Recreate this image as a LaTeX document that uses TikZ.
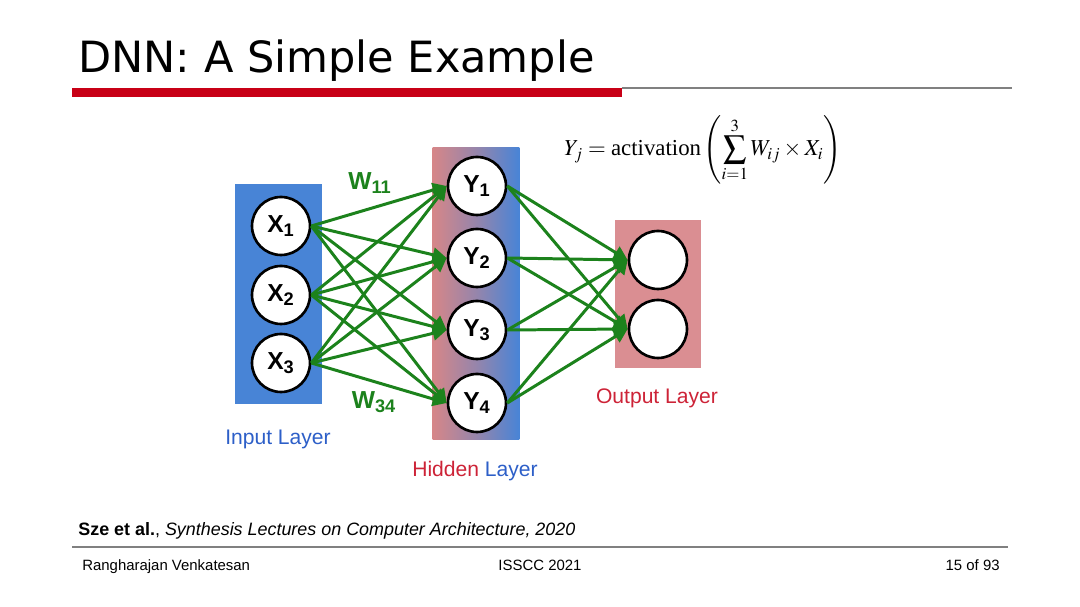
\documentclass[tikz,border=0pt]{standalone}
\usepackage{amsmath}
\usepackage{mathptmx}
\usepackage{fontspec}
\setmainfont{Liberation Serif}
\setsansfont{Liberation Sans}
\newfontfamily\titlefont{DejaVu Sans}
\usetikzlibrary{arrows.meta,positioning}
\definecolor{inblue}{RGB}{72,132,214}
\definecolor{hidpink}{RGB}{214,134,136}
\definecolor{outpink}{RGB}{218,142,146}
\definecolor{wgreen}{RGB}{28,130,28}
\definecolor{labblue}{RGB}{45,95,200}
\definecolor{labred}{RGB}{205,35,55}
\definecolor{barred}{RGB}{200,0,22}

\begin{document}
\begin{tikzpicture}[
  x=0.02cm,y=-0.02cm,
  layerbox/.style={minimum width=1.74cm,inner sep=0pt},
  neuron/.style={circle,draw=black,line width=1.5pt,fill=white,minimum size=1.16cm,inner sep=0pt,font=\sffamily\bfseries\fontsize{14}{14}\selectfont},
  wire/.style={-{Triangle[length=2.8mm,width=2.8mm]},line width=1.7pt,draw=wgreen},
  wlab/.style={font=\sffamily\bfseries\fontsize{14}{14}\selectfont,text=wgreen},
  layerlab/.style={font=\sffamily\fontsize{12}{12}\selectfont}
]
\useasboundingbox (0,0) rectangle (1080,607);

% title and rules
\node[anchor=base west,inner sep=0pt,font=\titlefont\fontsize{24.5}{26}\selectfont] (title) at (78,73) {DNN: A Simple Example};
\fill[barred] (72,88) rectangle (622,97);
\draw[gray,line width=0.7pt] (622,88) -- (1012,88);

% layers
\node[layerbox,fill=inblue,minimum height=4.4cm] (inlayer) at (278.5,294) {};
\node[layerbox,left color=hidpink,right color=inblue,middle color=hidpink!55!inblue,minimum height=5.86cm] (hidlayer) at (476,293.5) {};
\node[layerbox,fill=outpink,minimum height=2.96cm] (outlayer) at (658,294) {};

% neurons
\node[neuron] (x1) at (281,226) {X\textsubscript{1}};
\node[neuron] (x2) at (281,295) {X\textsubscript{2}};
\node[neuron] (x3) at (281,363) {X\textsubscript{3}};
\node[neuron] (y1) at (477,186) {Y\textsubscript{1}};
\node[neuron] (y2) at (477,258) {Y\textsubscript{2}};
\node[neuron] (y3) at (477,330) {Y\textsubscript{3}};
\node[neuron] (y4) at (477,403) {Y\textsubscript{4}};
\node[neuron] (o1) at (658,260) {};
\node[neuron] (o2) at (658,329) {};

% weights
\foreach \i in {1,2,3}
  \foreach \j in {1,...,4}
    \draw[wire] (x\i.east) -- (y\j.west);
\foreach \j in {1,...,4}
  \foreach \k in {1,2}
    \draw[wire] (y\j.east) -- (o\k.west);

\node[wlab] (w11) at (370,183) {W\textsubscript{11}};
\node[wlab] (w34) at (374,402) {W\textsubscript{34}};

% layer labels
\node[layerlab,text=labblue] (inlab) at (278,439) {Input Layer};
\node[layerlab] (hidlab) at (475,471) {\textcolor{labred}{Hidden} \textcolor{labblue}{Layer}};
\node[layerlab,text=labred] (outlab) at (657,398) {Output Layer};

% formula
\node[anchor=west,font=\fontsize{13}{15}\selectfont] (formula) at (558,150)
  {$\displaystyle Y_j=\text{activation}\left(\sum_{i=1}^{3}W_{ij}\times X_i\right)$};

% reference and footer
\node[anchor=base west,inner sep=0pt,font=\sffamily\fontsize{10.2}{12}\selectfont] (cite) at (78,536)
  {\textbf{Sze et al.}, \textit{Synthesis Lectures on Computer Architecture, 2020}};
\draw[gray,line width=0.9pt] (72,547) -- (1008,547);
\node[anchor=base west,inner sep=0pt,font=\sffamily\fontsize{8.5}{10}\selectfont] (author) at (82,571) {Rangharajan Venkatesan};
\node[anchor=base,inner sep=0pt,font=\sffamily\fontsize{8.5}{10}\selectfont] (conf) at (540,571) {ISSCC 2021};
\node[anchor=base east,inner sep=0pt,font=\sffamily\fontsize{8.5}{10}\selectfont] (page) at (1000,571) {15 of 93};
\end{tikzpicture}
\end{document}
